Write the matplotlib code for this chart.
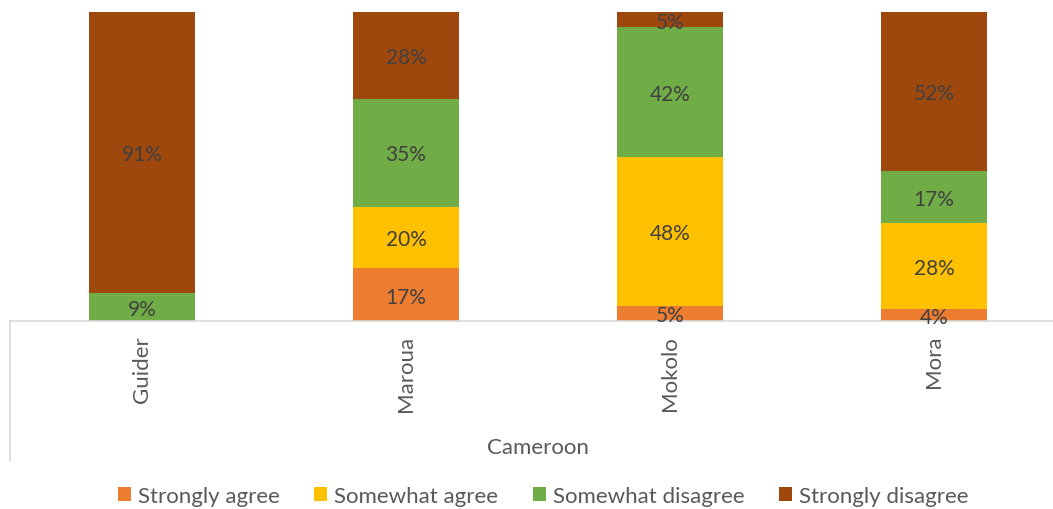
import matplotlib
matplotlib.use("Agg")
import matplotlib.pyplot as plt
from matplotlib.patches import Patch
from matplotlib.lines import Line2D
import numpy as np

plt.rcParams['font.family'] = ['Lato', 'DejaVu Sans']

sites = ["Guider", "Maroua", "Mokolo", "Mora"]
group_label = "Cameroon"
series_names = ["Strongly agree", "Somewhat agree", "Somewhat disagree", "Strongly disagree"]
strongly_agree = [0, 17, 5, 4]
somewhat_agree = [0, 20, 48, 28]
somewhat_disagree = [9, 35, 42, 17]
strongly_disagree = [91, 28, 5, 52]
colors = ["#ED7D31", "#FFC000", "#70AD47", "#9E480E"]

W, H = 1053, 510
fig = plt.figure(figsize=(W / 100, H / 100), dpi=100)
ax = fig.add_axes([10 / W, 1 - 322 / H, 1056 / W, 309 / H])

data = np.array([strongly_agree, somewhat_agree, somewhat_disagree, strongly_disagree], dtype=float)
totals = data.sum(axis=0)
shares = data / totals * 100  # 100% stacked columns

x = np.arange(len(sites)) + 0.5
bottom = np.zeros(len(sites))
for vals, share, col in zip(data, shares, colors):
    ax.bar(x, share, bottom=bottom, width=0.398, color=col, linewidth=0)
    for xi, v, s, b in zip(x, vals, share, bottom):
        if v > 0:
            ax.text(xi, b + s / 2 - 0.6, f"{int(v)}%", ha="center", va="center",
                    fontsize=15, color="#404040")
    bottom += share

ax.set_xlim(0, len(sites))
ax.set_ylim(0, 100)
ax.set_xticks([])
ax.set_yticks([])
for sp in ["top", "left", "right"]:
    ax.spines[sp].set_visible(False)
ax.spines["bottom"].set_color("#D9D9D9")
ax.spines["bottom"].set_linewidth(1.2)

# rotated category labels under each column
for xi, name in zip(x, sites):
    ax.text(xi, -0.045, name, rotation=90, ha="center", va="top",
            fontsize=16, color="#595959", transform=ax.get_xaxis_transform())

# outer group divider and label
fig.add_artist(Line2D([10 / W, 10 / W], [1 - 322 / H, 1 - 462 / H],
                      color="#D9D9D9", linewidth=1.2, transform=fig.transFigure))
fig.text(538 / W, 1 - 448 / H, group_label, ha="center", va="center",
         fontsize=16, color="#595959")

handles = [Patch(facecolor=c, edgecolor="none") for c in colors]
fig.legend(handles, series_names, loc="center", bbox_to_anchor=(543 / W, 1 - 497 / H),
           ncol=4, frameon=False, fontsize=16, handlelength=0.6, handleheight=0.6,
           handletextpad=0.3, columnspacing=1.55, labelcolor="#595959")

fig.savefig("out.png", dpi=100)
